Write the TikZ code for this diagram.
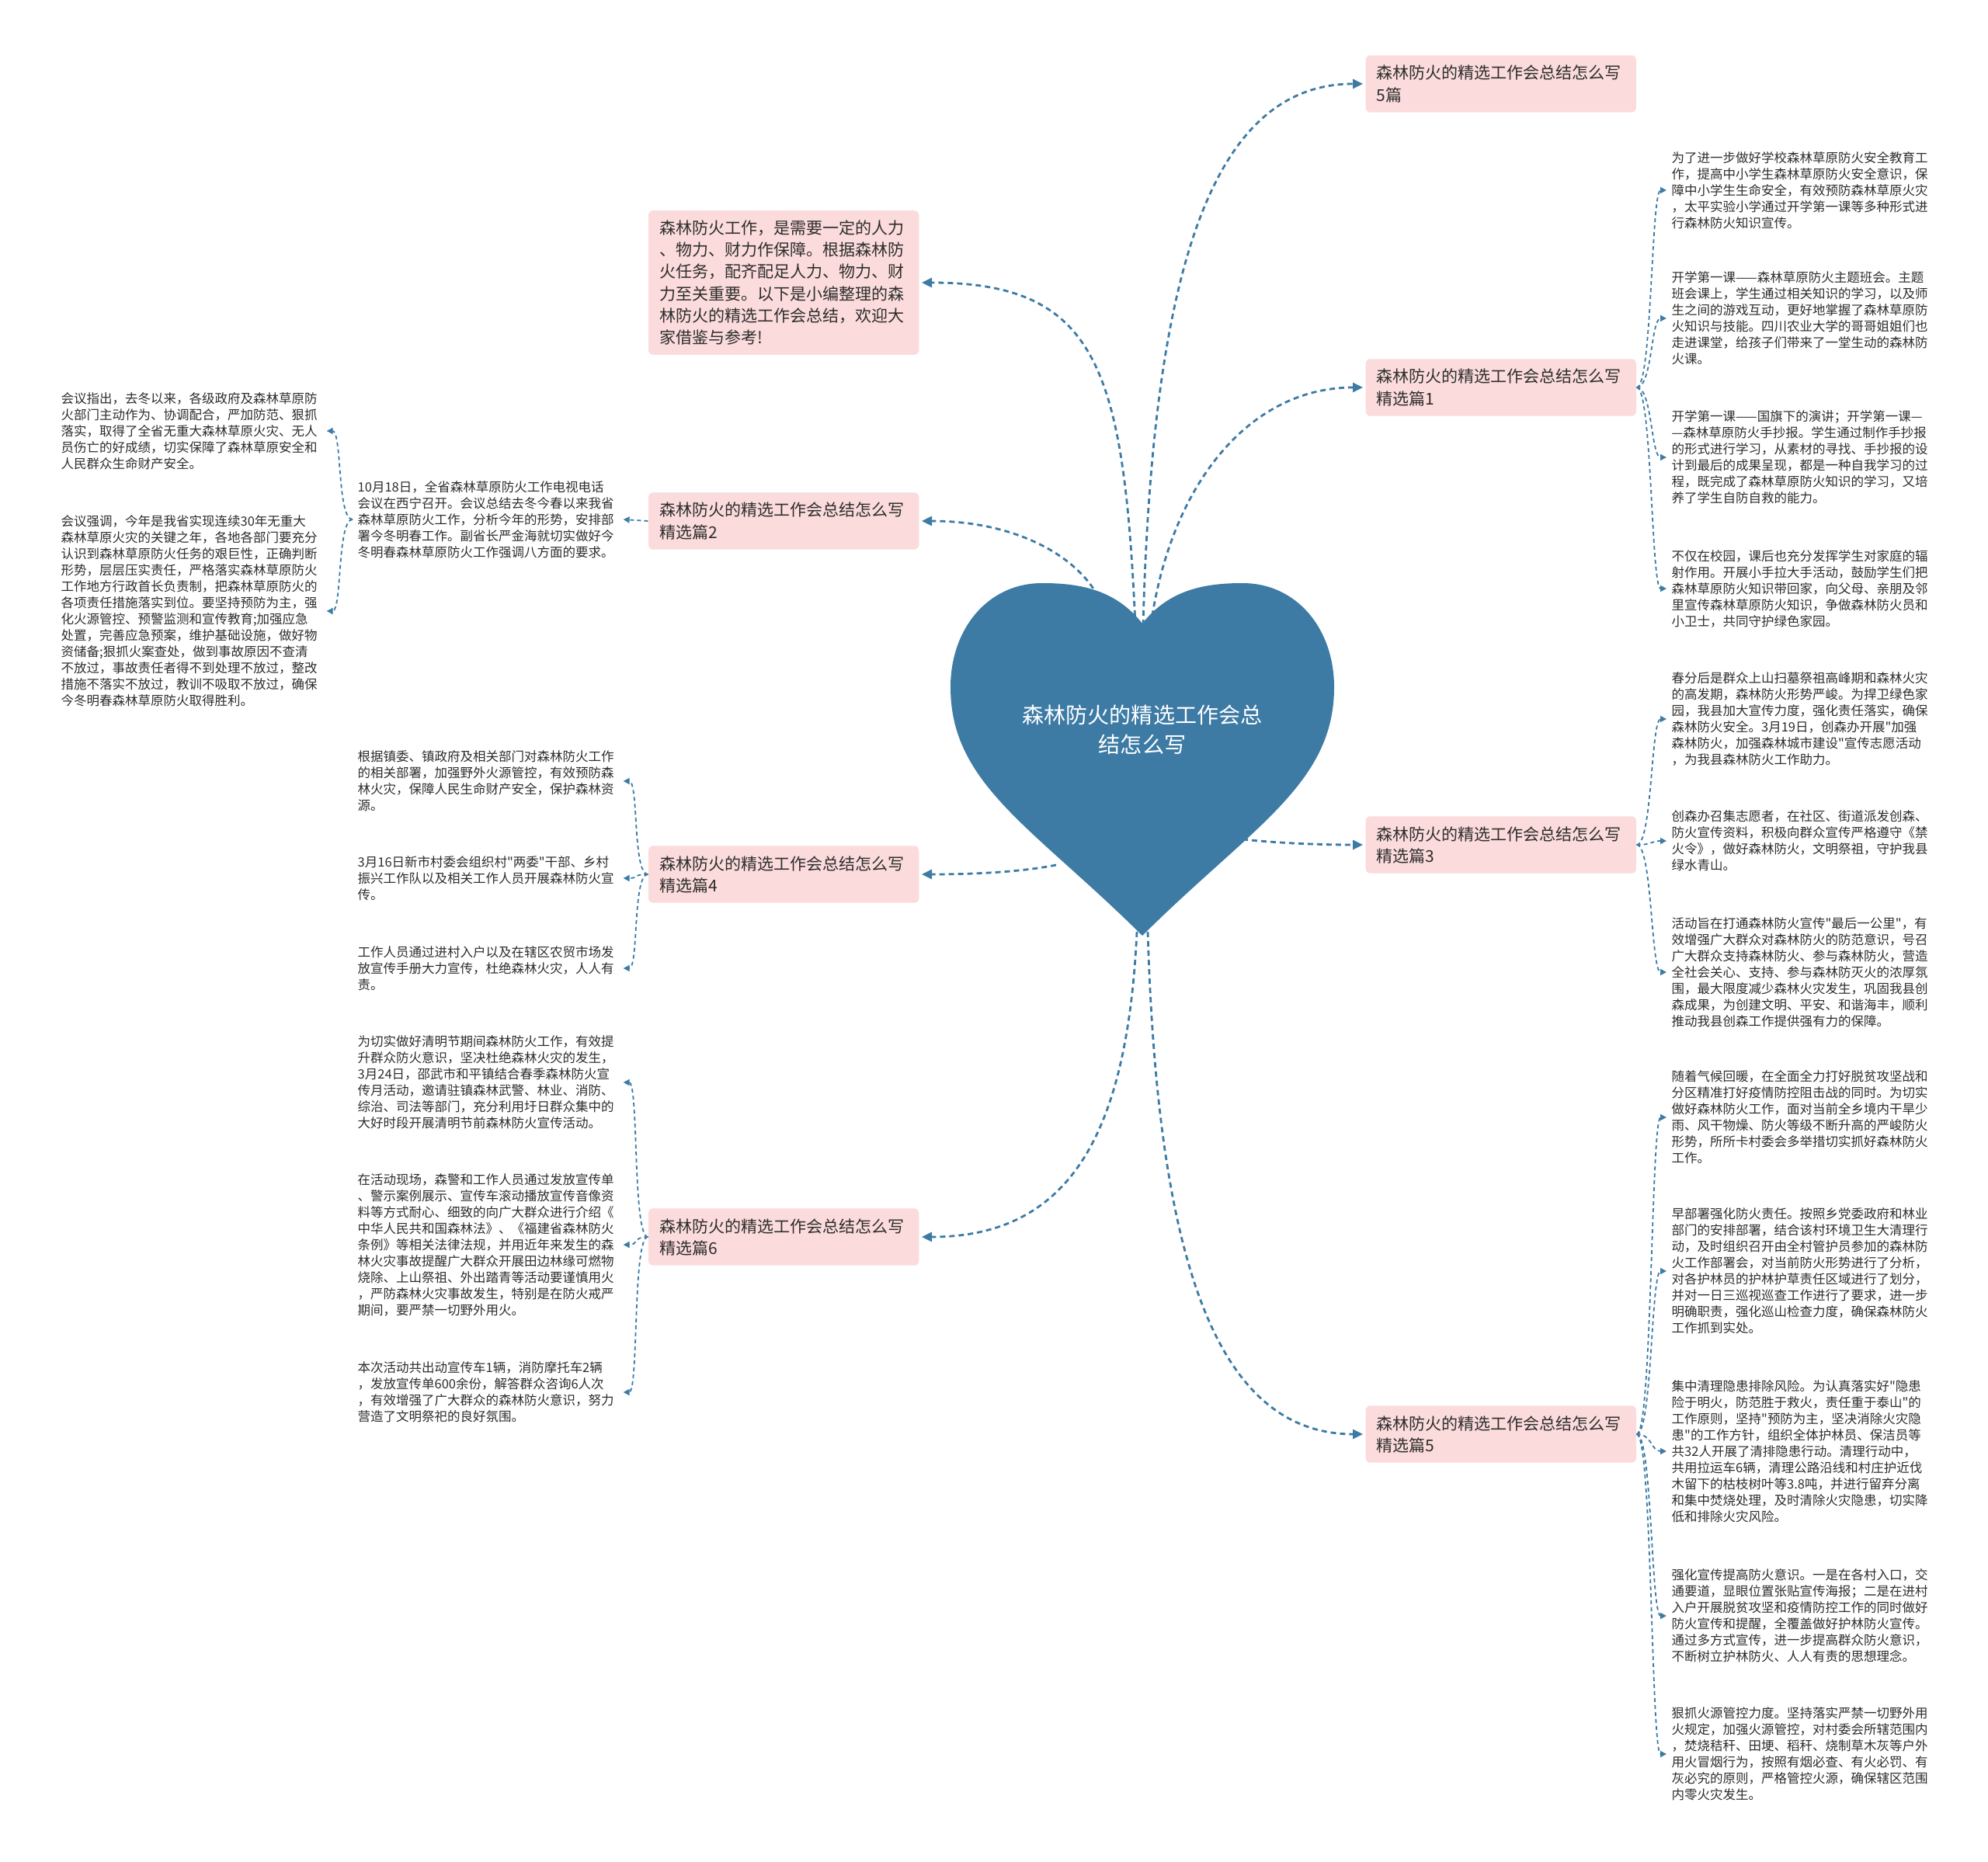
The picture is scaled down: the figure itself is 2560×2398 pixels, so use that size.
\documentclass[tikz,border=0pt]{standalone}
\usepackage{fontspec}
\setmainfont{Noto Sans CJK SC}[Ligatures=TeXOff]
\usetikzlibrary{arrows.meta}
\definecolor{heartblue}{RGB}{61,123,165}
\definecolor{boxpink}{RGB}{251,219,219}
\definecolor{inktext}{RGB}{45,45,45}
\newcommand\leaffont{\fontsize{4.69pt}{5.97pt}\selectfont}
\newcommand\branchfont{\fontsize{5.97pt}{7.97pt}\selectfont}
\newcommand\rootfont{\fontsize{7.97pt}{10.67pt}\selectfont}
\tikzstyle{branchbox} = [fill=boxpink, rounded corners=0.06cm, text width=3.2cm, inner xsep=0.14cm, inner ysep=0.13cm, align=left, font=\branchfont, text=inktext]
\tikzstyle{leafnote}  = [text width=3.35cm, inner xsep=0.06cm, inner ysep=0.03cm, align=left, font=\leaffont, text=inktext]
\tikzstyle{heartlink} = [draw=heartblue, line width=0.028cm, dash pattern=on 0.07cm off 0.05cm, -{Triangle[length=0.13cm,width=0.12cm]}, shorten >=0.03cm]
\tikzstyle{leaflink}  = [draw=heartblue, line width=0.018cm, dash pattern=on 0.05cm off 0.04cm, -{Triangle[length=0.08cm,width=0.08cm]}]

\begin{document}
\begin{tikzpicture}[x=0.01cm, y=-0.01cm]
\fill[white] (0,0) rectangle (2560,2398);

\node[branchbox, anchor=west] (allfive) at (1758,108) {森林防火的精选工作会总结怎么写\\5篇};
\node[branchbox, anchor=west] (p1) at (1758,499) {森林防火的精选工作会总结怎么写\\精选篇1};
\node[branchbox, anchor=west] (p3) at (1758,1088) {森林防火的精选工作会总结怎么写\\精选篇3};
\node[branchbox, anchor=west] (p5) at (1758,1847) {森林防火的精选工作会总结怎么写\\精选篇5};
\node[branchbox, anchor=east] (intro) at (1184,364) {森林防火工作，是需要一定的人力\\、物力、财力作保障。根据森林防\\火任务，配齐配足人力、物力、财\\力至关重要。以下是小编整理的森\\林防火的精选工作会总结，欢迎大\\家借鉴与参考!};
\node[branchbox, anchor=east] (p2) at (1184,671) {森林防火的精选工作会总结怎么写\\精选篇2};
\node[branchbox, anchor=east] (p4) at (1184,1126) {森林防火的精选工作会总结怎么写\\精选篇4};
\node[branchbox, anchor=east] (p6) at (1184,1593) {森林防火的精选工作会总结怎么写\\精选篇6};

\node[leafnote, anchor=west] (p1a) at (2146,245) {为了进一步做好学校森林草原防火安全教育工\\作，提高中小学生森林草原防火安全意识，保\\障中小学生生命安全，有效预防森林草原火灾\\，太平实验小学通过开学第一课等多种形式进\\行森林防火知识宣传。};
\node[leafnote, anchor=west] (p1b) at (2146,410) {开学第一课——森林草原防火主题班会。主题\\班会课上，学生通过相关知识的学习，以及师\\生之间的游戏互动，更好地掌握了森林草原防\\火知识与技能。四川农业大学的哥哥姐姐们也\\走进课堂，给孩子们带来了一堂生动的森林防\\火课。};
\node[leafnote, anchor=west] (p1c) at (2146,589) {开学第一课——国旗下的演讲；开学第一课—\\—森林草原防火手抄报。学生通过制作手抄报\\的形式进行学习，从素材的寻找、手抄报的设\\计到最后的成果呈现，都是一种自我学习的过\\程，既完成了森林草原防火知识的学习，又培\\养了学生自防自救的能力。};
\node[leafnote, anchor=west] (p1d) at (2146,758) {不仅在校园，课后也充分发挥学生对家庭的辐\\射作用。开展小手拉大手活动，鼓励学生们把\\森林草原防火知识带回家，向父母、亲朋及邻\\里宣传森林草原防火知识，争做森林防火员和\\小卫士，共同守护绿色家园。};

\node[leafnote, anchor=west] (p3a) at (2146,926) {春分后是群众上山扫墓祭祖高峰期和森林火灾\\的高发期，森林防火形势严峻。为捍卫绿色家\\园，我县加大宣传力度，强化责任落实，确保\\森林防火安全。3月19日，创森办开展"加强\\森林防火，加强森林城市建设"宣传志愿活动\\，为我县森林防火工作助力。};
\node[leafnote, anchor=west] (p3b) at (2146,1083) {创森办召集志愿者，在社区、街道派发创森、\\防火宣传资料，积极向群众宣传严格遵守《禁\\火令》，做好森林防火，文明祭祖，守护我县\\绿水青山。};
\node[leafnote, anchor=west] (p3c) at (2146,1252) {活动旨在打通森林防火宣传"最后一公里"，有\\效增强广大群众对森林防火的防范意识，号召\\广大群众支持森林防火、参与森林防火，营造\\全社会关心、支持、参与森林防灭火的浓厚氛\\围，最大限度减少森林火灾发生，巩固我县创\\森成果，为创建文明、平安、和谐海丰，顺利\\推动我县创森工作提供强有力的保障。};

\node[leafnote, anchor=west] (p5a) at (2146,1439) {随着气候回暖，在全面全力打好脱贫攻坚战和\\分区精准打好疫情防控阻击战的同时。为切实\\做好森林防火工作，面对当前全乡境内干旱少\\雨、风干物燥、防火等级不断升高的严峻防火\\形势，所所卡村委会多举措切实抓好森林防火\\工作。};
\node[leafnote, anchor=west] (p5b) at (2146,1637) {早部署强化防火责任。按照乡党委政府和林业\\部门的安排部署，结合该村环境卫生大清理行\\动，及时组织召开由全村管护员参加的森林防\\火工作部署会，对当前防火形势进行了分析，\\对各护林员的护林护草责任区域进行了划分，\\并对一日三巡视巡查工作进行了要求，进一步\\明确职责，强化巡山检查力度，确保森林防火\\工作抓到实处。};
\node[leafnote, anchor=west] (p5c) at (2146,1869) {集中清理隐患排除风险。为认真落实好"隐患\\险于明火，防范胜于救火，责任重于泰山"的\\工作原则，坚持"预防为主，坚决消除火灾隐\\患"的工作方针，组织全体护林员、保洁员等\\共32人开展了清排隐患行动。清理行动中，\\共用拉运车6辆，清理公路沿线和村庄护近伐\\木留下的枯枝树叶等3.8吨，并进行留弃分离\\和集中焚烧处理，及时清除火灾隐患，切实降\\低和排除火灾风险。};
\node[leafnote, anchor=west] (p5d) at (2146,2081) {强化宣传提高防火意识。一是在各村入口，交\\通要道，显眼位置张贴宣传海报；二是在进村\\入户开展脱贫攻坚和疫情防控工作的同时做好\\防火宣传和提醒，全覆盖做好护林防火宣传。\\通过多方式宣传，进一步提高群众防火意识，\\不断树立护林防火、人人有责的思想理念。};
\node[leafnote, anchor=west] (p5e) at (2146,2259) {狠抓火源管控力度。坚持落实严禁一切野外用\\火规定，加强火源管控，对村委会所辖范围内\\，焚烧秸秆、田埂、稻秆、烧制草木灰等户外\\用火冒烟行为，按照有烟必查、有火必罚、有\\灰必究的原则，严格管控火源，确保辖区范围\\内零火灾发生。};

\node[leafnote, anchor=west] (p2a) at (454,669) {10月18日，全省森林草原防火工作电视电话\\会议在西宁召开。会议总结去冬今春以来我省\\森林草原防火工作，分析今年的形势，安排部\\署今冬明春工作。副省长严金海就切实做好今\\冬明春森林草原防火工作强调八方面的要求。};
\node[leafnote, anchor=west] (p2aa) at (72,555) {会议指出，去冬以来，各级政府及森林草原防\\火部门主动作为、协调配合，严加防范、狠抓\\落实，取得了全省无重大森林草原火灾、无人\\员伤亡的好成绩，切实保障了森林草原安全和\\人民群众生命财产安全。};
\node[leafnote, anchor=west] (p2ab) at (72,787) {会议强调，今年是我省实现连续30年无重大\\森林草原火灾的关键之年，各地各部门要充分\\认识到森林草原防火任务的艰巨性，正确判断\\形势，层层压实责任，严格落实森林草原防火\\工作地方行政首长负责制，把森林草原防火的\\各项责任措施落实到位。要坚持预防为主，强\\化火源管控、预警监测和宣传教育;加强应急\\处置，完善应急预案，维护基础设施，做好物\\资储备;狠抓火案查处，做到事故原因不查清\\不放过，事故责任者得不到处理不放过，整改\\措施不落实不放过，教训不吸取不放过，确保\\今冬明春森林草原防火取得胜利。};

\node[leafnote, anchor=west] (p4a) at (454,1006) {根据镇委、镇政府及相关部门对森林防火工作\\的相关部署，加强野外火源管控，有效预防森\\林火灾，保障人民生命财产安全，保护森林资\\源。};
\node[leafnote, anchor=west] (p4b) at (454,1131) {3月16日新市村委会组织村"两委"干部、乡村\\振兴工作队以及相关工作人员开展森林防火宣\\传。};
\node[leafnote, anchor=west] (p4c) at (454,1247) {工作人员通过进村入户以及在辖区农贸市场发\\放宣传手册大力宣传，杜绝森林火灾，人人有\\责。};

\node[leafnote, anchor=west] (p6a) at (454,1394) {为切实做好清明节期间森林防火工作，有效提\\升群众防火意识，坚决杜绝森林火灾的发生，\\3月24日，邵武市和平镇结合春季森林防火宣\\传月活动，邀请驻镇森林武警、林业、消防、\\综治、司法等部门，充分利用圩日群众集中的\\大好时段开展清明节前森林防火宣传活动。};
\node[leafnote, anchor=west] (p6b) at (454,1603) {在活动现场，森警和工作人员通过发放宣传单\\、警示案例展示、宣传车滚动播放宣传音像资\\料等方式耐心、细致的向广大群众进行介绍《\\中华人民共和国森林法》、《福建省森林防火\\条例》等相关法律法规，并用近年来发生的森\\林火灾事故提醒广大群众开展田边林缘可燃物\\烧除、上山祭祖、外出踏青等活动要谨慎用火\\，严防森林火灾事故发生，特别是在防火戒严\\期间，要严禁一切野外用火。};
\node[leafnote, anchor=west] (p6c) at (454,1793) {本次活动共出动宣传车1辆，消防摩托车2辆\\，发放宣传单600余份，解答群众咨询6人次\\，有效增强了广大群众的森林防火意识，努力\\营造了文明祭祀的良好氛围。};

\coordinate (s-intro) at (1462,805);
\coordinate (s-allfive) at (1472,805);
\coordinate (s-p1) at (1482,805);
\coordinate (s-p2) at (1414,768);
\coordinate (s-p4) at (1360,1114);
\coordinate (s-p3) at (1600,1081);
\coordinate (s-p6) at (1464,1200);
\coordinate (s-p5) at (1478,1200);

\draw[heartlink] (s-intro) .. controls +(-15,-330) and +(230,0) .. (intro.east);
\draw[heartlink] (s-allfive) .. controls +(12,-450) and +(-200,0) .. (allfive.west);
\draw[heartlink] (s-p1) .. controls +(25,-180) and +(-150,0) .. (p1.west);
\draw[heartlink] (s-p2) .. controls +(-30,-55) and +(120,0) .. (p2.east);
\draw[heartlink] (s-p4) .. controls +(-50,10) and +(60,0) .. (p4.east);
\draw[heartlink] (s-p3) .. controls +(50,5) and +(-60,0) .. (p3.west);
\draw[heartlink] (s-p6) .. controls +(-12,250) and +(200,0) .. (p6.east);
\draw[heartlink] (s-p5) .. controls +(12,400) and +(-200,0) .. (p5.west);

\draw[leaflink] (p2.west) -- (p2a.east);
\foreach \x in {p1a,p1b,p1c,p1d}
  \draw[leaflink] (p1.east) .. controls +(20,0) and +(-20,0) .. (\x.west);
\foreach \x in {p3a,p3b,p3c}
  \draw[leaflink] (p3.east) .. controls +(20,0) and +(-20,0) .. (\x.west);
\foreach \x in {p5a,p5b,p5c,p5d,p5e}
  \draw[leaflink] (p5.east) .. controls +(20,0) and +(-20,0) .. (\x.west);
\foreach \x in {p2aa,p2ab}
  \draw[leaflink] (p2a.west) .. controls +(-20,0) and +(20,0) .. (\x.east);
\foreach \x in {p4a,p4b,p4c}
  \draw[leaflink] (p4.west) .. controls +(-20,0) and +(20,0) .. (\x.east);
\foreach \x in {p6a,p6b,p6c}
  \draw[leaflink] (p6.west) .. controls +(-20,0) and +(20,0) .. (\x.east);

\fill[heartblue] (1471,803) .. controls (1505,760) and (1550,751) .. (1600,751)
  .. controls (1670,751) and (1718,810) .. (1718,885)
  .. controls (1718,1010) and (1612,1065) .. (1471,1205)
  .. controls (1330,1065) and (1224,1010) .. (1224,885)
  .. controls (1224,810) and (1272,751) .. (1342,751)
  .. controls (1392,751) and (1437,760) .. (1471,803) -- cycle;
\node[font=\rootfont, text=white, align=center] (root) at (1471,940) {森林防火的精选工作会总\\结怎么写};
\end{tikzpicture}
\end{document}
